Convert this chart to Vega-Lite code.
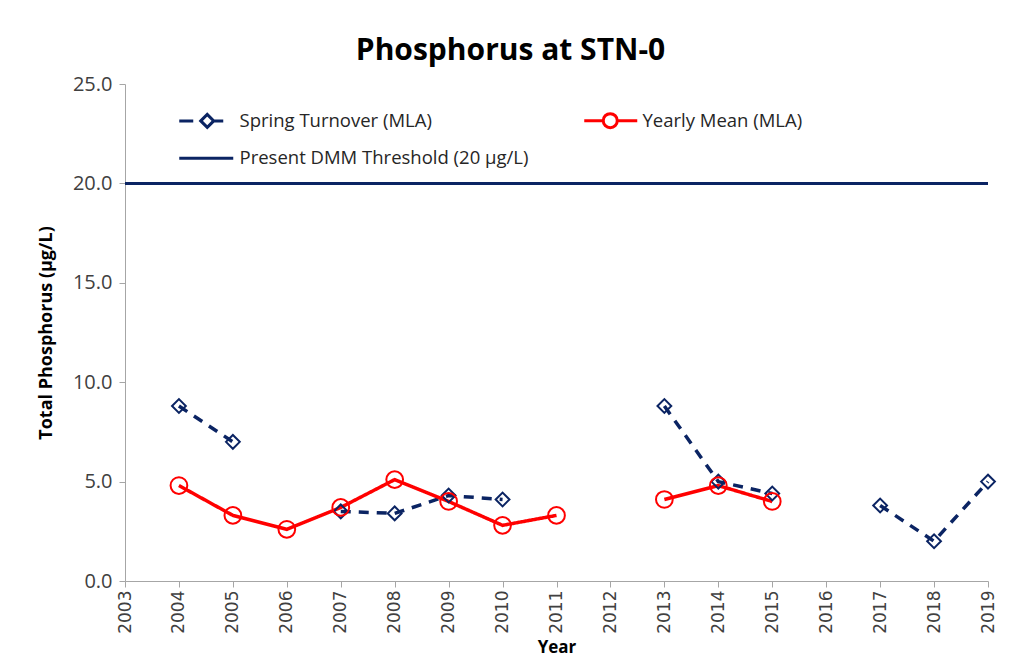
{
  "$schema": "https://vega.github.io/schema/vega-lite/v6.json",
  "width": 863,
  "height": 497,
  "autosize": {"type": "none"},
  "padding": {"left": 125, "top": 84, "right": 40, "bottom": 80},
  "background": "white",
  "title": {
    "text": "Phosphorus at STN-0",
    "font": "Open Sans",
    "fontSize": 30,
    "fontWeight": "bold",
    "color": "#000000",
    "anchor": "middle",
    "dx": -46,
    "offset": 8
  },
  "config": {
    "view": {"stroke": null},
    "axis": {"grid": false, "domainColor": "#a6a6a6", "tickColor": "#a6a6a6", "labelColor": "#404040", "titleColor": "#000000"}
  },
  "data": {
    "values": [
      {"year": 2003, "series": "Present DMM Threshold (20 µg/L)", "value": 20},
      {"year": 2004, "series": "Spring Turnover (MLA)", "value": 8.8},
      {"year": 2005, "series": "Spring Turnover (MLA)", "value": 7.0},
      {"year": 2006, "series": "Spring Turnover (MLA)", "value": null},
      {"year": 2007, "series": "Spring Turnover (MLA)", "value": 3.5},
      {"year": 2008, "series": "Spring Turnover (MLA)", "value": 3.4},
      {"year": 2009, "series": "Spring Turnover (MLA)", "value": 4.3},
      {"year": 2010, "series": "Spring Turnover (MLA)", "value": 4.1},
      {"year": 2011, "series": "Spring Turnover (MLA)", "value": null},
      {"year": 2012, "series": "Spring Turnover (MLA)", "value": null},
      {"year": 2013, "series": "Spring Turnover (MLA)", "value": 8.8},
      {"year": 2014, "series": "Spring Turnover (MLA)", "value": 5.0},
      {"year": 2015, "series": "Spring Turnover (MLA)", "value": 4.4},
      {"year": 2016, "series": "Spring Turnover (MLA)", "value": null},
      {"year": 2017, "series": "Spring Turnover (MLA)", "value": 3.8},
      {"year": 2018, "series": "Spring Turnover (MLA)", "value": 2.0},
      {"year": 2019, "series": "Spring Turnover (MLA)", "value": 5.0},
      {"year": 2004, "series": "Yearly Mean (MLA)", "value": 4.8},
      {"year": 2005, "series": "Yearly Mean (MLA)", "value": 3.3},
      {"year": 2006, "series": "Yearly Mean (MLA)", "value": 2.6},
      {"year": 2007, "series": "Yearly Mean (MLA)", "value": 3.7},
      {"year": 2008, "series": "Yearly Mean (MLA)", "value": 5.1},
      {"year": 2009, "series": "Yearly Mean (MLA)", "value": 4.0},
      {"year": 2010, "series": "Yearly Mean (MLA)", "value": 2.8},
      {"year": 2011, "series": "Yearly Mean (MLA)", "value": 3.3},
      {"year": 2012, "series": "Yearly Mean (MLA)", "value": null},
      {"year": 2013, "series": "Yearly Mean (MLA)", "value": 4.1},
      {"year": 2014, "series": "Yearly Mean (MLA)", "value": 4.8},
      {"year": 2015, "series": "Yearly Mean (MLA)", "value": 4.0}
    ]
  },
  "encoding": {
    "y": {
      "field": "value", "type": "quantitative",
      "scale": {"domain": [0, 25], "nice": false},
      "axis": {
        "values": [0, 5, 10, 15, 20, 25], "format": ".1f", "labelFont": "Open Sans", "labelFontSize": 20,
        "labelPadding": 7, "tickSize": 6,
        "title": "Total Phosphorus (µg/L)", "titleFont": "Open Sans", "titleFontSize": 18, "titleFontWeight": "bold", "titlePadding": 17
      }
    },
    "color": {
      "field": "series", "type": "nominal",
      "scale": {
        "domain": ["Spring Turnover (MLA)", "Yearly Mean (MLA)", "Present DMM Threshold (20 µg/L)"],
        "range": ["#0b2463", "#ff0000", "#0b2463"]
      },
      "legend": {
        "title": null,
        "orient": "none",
        "legendX": 73,
        "legendY": 27,
        "direction": "horizontal",
        "columns": 2,
        "columnPadding": 49,
        "rowPadding": 15,
        "padding": 0,
        "symbolSize": 100,
        "labelOffset": 23,
        "labelFont": "Open Sans",
        "labelFontSize": 18.5,
        "labelColor": "#262626",
        "labelLimit": 400,
        "encode": {
          "symbols": {
            "update": {
              "shape": {"signal": "datum.value === 'Spring Turnover (MLA)' ? 'M-5.6,0H-2.8M-1.3,0L0,-1.3L1.3,0L0,1.3ZM1.3,0H3.2' : datum.value === 'Yearly Mean (MLA)' ? 'M-5.2,0H-1.4A1.4,1.4 0 1,0 1.4,0A1.4,1.4 0 1,0 -1.4,0M1.4,0H5.4' : 'M-5.6,0H5.2'"},
              "fill": {"value": "white"},
              "fillOpacity": {"value": 1},
              "strokeWidth": {"value": 3},
              "opacity": {"value": 1}
            }
          }
        }
      }
    }
  },
  "layer": [
    {
      "transform": [{"filter": "datum.series === 'Present DMM Threshold (20 µg/L)'"}],
      "mark": {"type": "rule", "strokeWidth": 3}
    },
    {
      "transform": [{"filter": "datum.series !== 'Present DMM Threshold (20 µg/L)'"}],
      "mark": {"type": "line", "strokeWidth": 3.5, "invalid": "break-paths-show-domains"},
      "encoding": {
        "x": {
          "field": "year", "type": "quantitative",
          "scale": {"domain": [2003, 2019], "nice": false, "zero": false},
          "axis": {
            "values": [2003,2004,2005,2006,2007,2008,2009,2010,2011,2012,2013,2014,2015,2016,2017,2018,2019],
            "format": "d", "labelAngle": -90, "labelFont": "DejaVu Sans", "labelFontSize": 17,
            "labelAlign": "right", "labelBaseline": "middle", "labelPadding": 3, "tickSize": 6,
            "title": "Year", "titleFont": "Open Sans", "titleFontSize": 17, "titleFontWeight": "bold", "titlePadding": 6
          }
        },
        "strokeDash": {
          "field": "series", "type": "nominal",
          "scale": {"domain": ["Spring Turnover (MLA)", "Yearly Mean (MLA)"], "range": [[10, 8], [1, 0]]},
          "legend": null
        }
      }
    },
    {
      "transform": [{"filter": "datum.series !== 'Present DMM Threshold (20 µg/L)' && datum.value != null"}],
      "mark": {"type": "point", "filled": false, "opacity": 1, "strokeWidth": 2},
      "encoding": {
        "x": {"field": "year", "type": "quantitative"},
        "shape": {
          "field": "series", "type": "nominal",
          "scale": {"domain": ["Spring Turnover (MLA)", "Yearly Mean (MLA)"], "range": ["diamond", "circle"]},
          "legend": null
        },
        "size": {
          "field": "series", "type": "nominal",
          "scale": {"domain": ["Spring Turnover (MLA)", "Yearly Mean (MLA)"], "range": [190, 280]},
          "legend": null
        }
      }
    }
  ]
}
